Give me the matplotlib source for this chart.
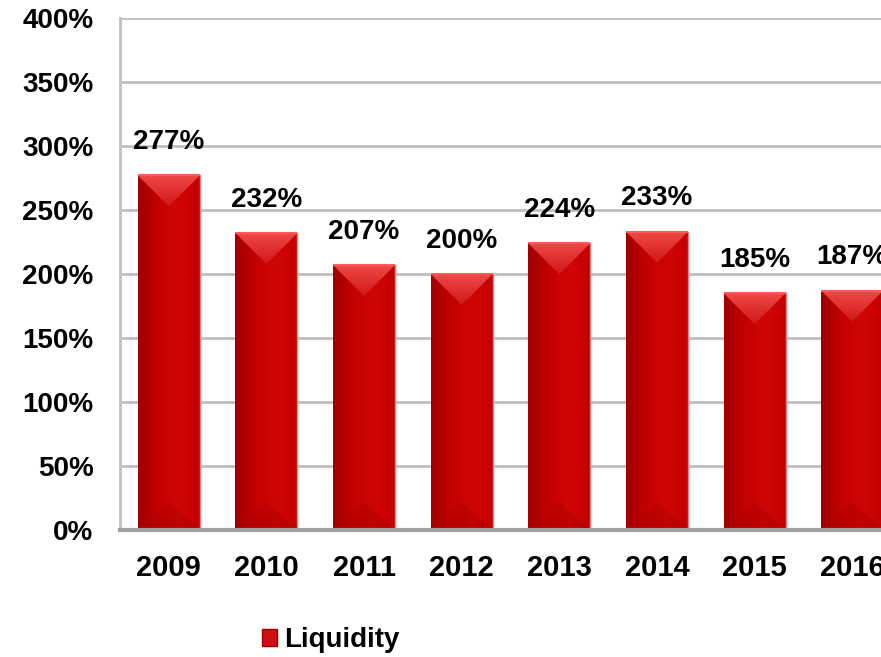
import numpy as np
import matplotlib.pyplot as plt
from matplotlib.patches import Polygon, Rectangle
from matplotlib.colors import LinearSegmentedColormap

years = ['2009', '2010', '2011', '2012', '2013', '2014', '2015', '2016']
liquidity = [277, 232, 207, 200, 224, 233, 185, 187]
yticks = [0, 50, 100, 150, 200, 250, 300, 350, 400]

plt.rcParams['font.family'] = ['Liberation Sans', 'DejaVu Sans']
plt.rcParams['font.weight'] = 'bold'

fig = plt.figure(figsize=(8.81, 6.57), dpi=100)
ax = fig.add_axes([120/881, 127/657, 781/881, 512/657])

x = np.arange(len(years))
bw = 0.635
bars = ax.bar(x, liquidity, width=bw, color='#c00000', zorder=2)

# bevel / gradient look on each bar
grad = LinearSegmentedColormap.from_list('g', ['#a00000', '#c40000', '#d00606', '#c40000'])
gimg = np.linspace(0, 1, 64).reshape(1, -1)
topgrad = LinearSegmentedColormap.from_list('t', ['#d01818', '#f04848'])
timg = np.linspace(0, 1, 64).reshape(-1, 1)
# depth of the bevel triangles in data units (about half the bar width on screen)
px_per_x = 781 / 8.0
px_per_y = 512 / 400.0
depth = (bw * px_per_x / 2) / px_per_y
for b, v in zip(bars, liquidity):
    x0 = b.get_x()
    x1 = x0 + b.get_width()
    xc = (x0 + x1) / 2
    im = ax.imshow(gimg, cmap=grad, aspect='auto', extent=[x0, x1, 0, v],
                   zorder=2.1, interpolation='bicubic')
    im.set_clip_path(b)
    top = Polygon([[x0, v], [x1, v], [xc, v - depth]], closed=True,
                  facecolor='none', edgecolor='none', zorder=2.2)
    ax.add_patch(top)
    tim = ax.imshow(timg, cmap=topgrad, aspect='auto',
                    extent=[x0, x1, v, v - depth], origin='upper',
                    zorder=2.2, interpolation='bicubic')
    tim.set_clip_path(top)
    bot = Polygon([[x0, 0], [x1, 0], [xc, depth * 0.9]], closed=True,
                  facecolor='#b00000', edgecolor='none', zorder=2.2, alpha=0.5)
    ax.add_patch(bot)
    ax.plot([x0, x1], [v, v], color='#ff5a5a', lw=1.5, zorder=2.3,
            solid_capstyle='butt')
    ax.plot([x1, x1], [0, v], color='#f08080', lw=1, zorder=2.3)
    ax.annotate(f'{v}%', (xc, v), xytext=(0, 24), textcoords='offset points',
                ha='center', va='center', fontsize=20, fontweight='bold',
                zorder=4)

ax.set_xlim(-0.5, len(years) - 0.5)
ax.set_ylim(0, 400)
ax.set_yticks(yticks)
ax.set_yticklabels([f'{t}%' for t in yticks], fontsize=20, fontweight='bold')
ax.set_xticks(x)
ax.set_xticklabels(years, fontsize=21, fontweight='bold')
ax.tick_params(axis='both', length=0)
ax.tick_params(axis='y', pad=19)
ax.tick_params(axis='x', pad=17)

ax.grid(axis='y', color='#c0c0c0', lw=2, zorder=0)
ax.set_axisbelow(True)
for s in ['top', 'right']:
    ax.spines[s].set_visible(False)
ax.spines['left'].set_color('#c0c0c0')
ax.spines['left'].set_linewidth(2)
ax.spines['bottom'].set_color('#a0a0a0')
ax.spines['bottom'].set_linewidth(3)
ax.spines['bottom'].set_zorder(3)

handle = Rectangle((0, 0), 1, 1, facecolor='#d01010', edgecolor='#a00000')
fig.legend([handle], ['Liquidity'], loc='center',
           bbox_to_anchor=(331/881, 1 - 640/657), frameon=False,
           prop={'size': 20, 'weight': 'bold'}, handlelength=0.55,
           handleheight=0.55, handletextpad=0.25)

fig.savefig('out.png', dpi=100)
